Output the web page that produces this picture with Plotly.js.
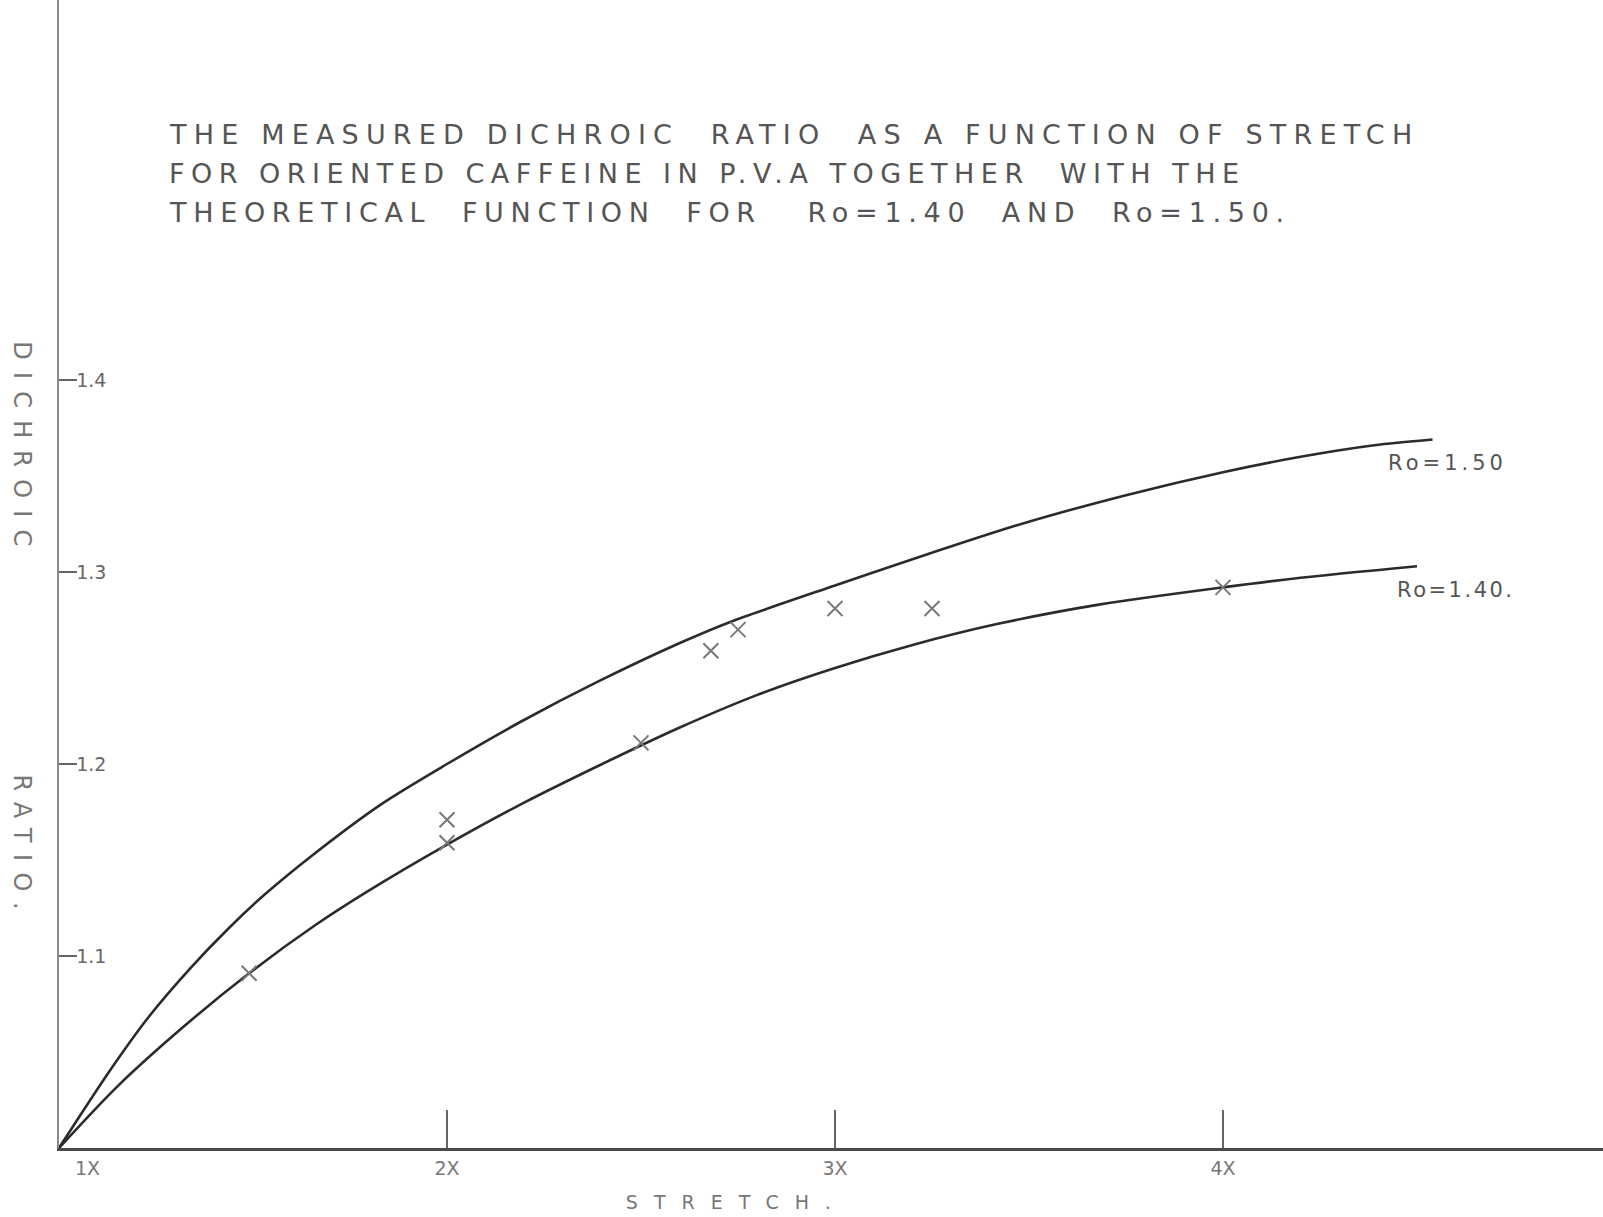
<!DOCTYPE html>
<html>
<head>
<meta charset="utf-8">
<script src="https://cdn.plot.ly/plotly-3.0.1.min.js"></script>
<style>
  html, body { margin: 0; padding: 0; background: #ffffff; }
  #chart { width: 1603px; height: 1217px; }
</style>
</head>
<body>
<div id="chart"></div>
<script>
// ---- Data ----
const stretchR150 = [1.00, 1.13, 1.23, 1.34, 1.44, 1.53, 1.65, 1.83, 2.00, 2.19, 2.39, 2.60, 2.73, 3.00, 3.19, 3.48, 3.75, 4.00, 4.20, 4.39, 4.54];
const ratioR150   = [1.000, 1.040, 1.068, 1.094, 1.115, 1.132, 1.152, 1.179, 1.200, 1.222, 1.243, 1.263, 1.274, 1.293, 1.306, 1.325, 1.340, 1.352, 1.360, 1.366, 1.369];

const stretchR140 = [1.00, 1.15, 1.32, 1.49, 1.66, 1.79, 2.00, 2.20, 2.40, 2.60, 2.80, 3.00, 3.20, 3.42, 3.68, 4.00, 4.20, 4.50];
const ratioR140   = [1.000, 1.032, 1.063, 1.091, 1.116, 1.133, 1.158, 1.180, 1.200, 1.219, 1.236, 1.250, 1.262, 1.273, 1.283, 1.292, 1.297, 1.303];

const measuredStretch = [1.49, 2.00, 2.00, 2.50, 2.68, 2.75, 3.00, 3.25, 4.00];
const measuredRatio   = [1.091, 1.159, 1.171, 1.211, 1.259, 1.270, 1.281, 1.281, 1.292];

const xTickVals   = [2, 3, 4];
const xTickLabels = ["2X", "3X", "4X"];
const xOriginLabel = "1X";
const yTickVals   = [1.1, 1.2, 1.3, 1.4];
const yTickLabels = ["1.1", "1.2", "1.3", "1.4"];

const titleLines = [
  "THE MEASURED DICHROIC  RATIO  AS A FUNCTION OF STRETCH",
  "FOR ORIENTED CAFFEINE IN P.V.A TOGETHER  WITH THE",
  "THEORETICAL  FUNCTION  FOR   Ro=1.40  AND  Ro=1.50."
];
const curveLabels = ["Ro=1.50", "Ro=1.40."];
const xAxisTitle = "STRETCH.";
const yAxisTitleParts = ["DICHROIC", "RATIO."];

// ---- Plot ----
const lineColor = "#2b2b2b";
const traces = [
  { x: stretchR150, y: ratioR150, mode: "lines", line: { color: lineColor, width: 2.6, shape: "spline", smoothing: 0.8 }, hoverinfo: "skip", showlegend: false },
  { x: stretchR140, y: ratioR140, mode: "lines", line: { color: lineColor, width: 2.6, shape: "spline", smoothing: 0.8 }, hoverinfo: "skip", showlegend: false },
  { x: measuredStretch, y: measuredRatio, mode: "markers",
    marker: { symbol: "x-thin", size: 15, color: "#777777", line: { color: "#777777", width: 2 } },
    showlegend: false }
];

const W = 1603, H = 1217;
const mL = 59, mB = 69;
const pxPerX = 388, pxPerY = 1920;
const xMax = 1 + (W - mL) / pxPerX;
const yMax = 1 + (H - mB) / pxPerY;

const pfx = px => (px - mL) / (W - mL);
const pfy = py => (H - mB - py) / (H - mB);

const titleFont = { family: "DejaVu Sans", size: 27, color: "#555555" };
const annotations = [];
const targets = [];
const titleY = [135, 174, 213];
const titleW = [1242, 1070, 1114];
titleLines.forEach((t, i) => {
  annotations.push({ text: t, xref: "paper", yref: "paper", x: pfx(167), y: pfy(titleY[i]),
    xanchor: "left", yanchor: "middle", align: "left", showarrow: false, font: titleFont });
  targets.push(titleW[i]);
});
annotations.push({ text: curveLabels[0], xref: "paper", yref: "paper", x: pfx(1386), y: pfy(463),
  xanchor: "left", yanchor: "middle", align: "left", showarrow: false,
  font: { family: "DejaVu Sans", size: 21, color: "#555555" } });
targets.push(115);
annotations.push({ text: curveLabels[1], xref: "paper", yref: "paper", x: pfx(1395), y: pfy(590),
  xanchor: "left", yanchor: "middle", align: "left", showarrow: false,
  font: { family: "DejaVu Sans", size: 21, color: "#555555" } });
targets.push(115);
annotations.push({ text: xAxisTitle, xref: "paper", yref: "paper", x: pfx(736), y: pfy(1202),
  xanchor: "center", yanchor: "middle", showarrow: false,
  font: { family: "DejaVu Sans", size: 19, color: "#777777" } });
targets.push(205);
annotations.push({ text: yAxisTitleParts[0], xref: "paper", yref: "paper", x: pfx(22), y: pfy(450),
  xanchor: "center", yanchor: "middle", textangle: 90, showarrow: false,
  font: { family: "DejaVu Sans", size: 24, color: "#777777" } });
targets.push(205);
annotations.push({ text: yAxisTitleParts[1], xref: "paper", yref: "paper", x: pfx(22), y: pfy(848),
  xanchor: "center", yanchor: "middle", textangle: 90, showarrow: false,
  font: { family: "DejaVu Sans", size: 24, color: "#777777" } });
targets.push(135);
annotations.push({ text: xOriginLabel, xref: "paper", yref: "paper", x: pfx(87), y: pfy(1168),
  xanchor: "center", yanchor: "middle", showarrow: false,
  font: { family: "DejaVu Sans", size: 19, color: "#777777" } });
targets.push(0);

const layout = {
  width: W, height: H,
  margin: { l: mL, r: 0, t: 0, b: mB, pad: 0 },
  paper_bgcolor: "#ffffff", plot_bgcolor: "#ffffff",
  showlegend: false,
  xaxis: {
    range: [1, xMax], showgrid: false, zeroline: false,
    showline: true, linecolor: "#4a4a4a", linewidth: 2.5,
    tickmode: "array", tickvals: xTickVals, ticktext: xTickLabels,
    ticks: "inside", ticklen: 38, tickwidth: 2, tickcolor: "#666666",
    ticklabelstandoff: 2,
    tickfont: { family: "DejaVu Sans", size: 19, color: "#777777" }
  },
  yaxis: {
    range: [1, yMax], showgrid: false, zeroline: false,
    showline: true, linecolor: "#8a8a8a", linewidth: 2.5,
    tickmode: "array", tickvals: yTickVals, ticktext: yTickLabels,
    ticks: "inside", ticklen: 18, tickwidth: 2, tickcolor: "#666666",
    ticklabelposition: "inside",
    tickfont: { family: "DejaVu Sans", size: 19, color: "#666666" }
  },
  annotations: annotations
};

Plotly.newPlot("chart", traces, layout, { staticPlot: true, displayModeBar: false }).then(gd => {
  gd.querySelectorAll("g.annotation").forEach(g => {
    const i = +g.getAttribute("data-index");
    const t = g.querySelector("text.annotation-text");
    if (!t || !targets[i]) return;
    const L = t.getComputedTextLength();
    const n = t.textContent.length;
    const sp = (targets[i] - L) / Math.max(1, n - 1);
    if (sp > 0) t.style.letterSpacing = sp.toFixed(2) + "px";
  });
});
</script>
</body>
</html>
